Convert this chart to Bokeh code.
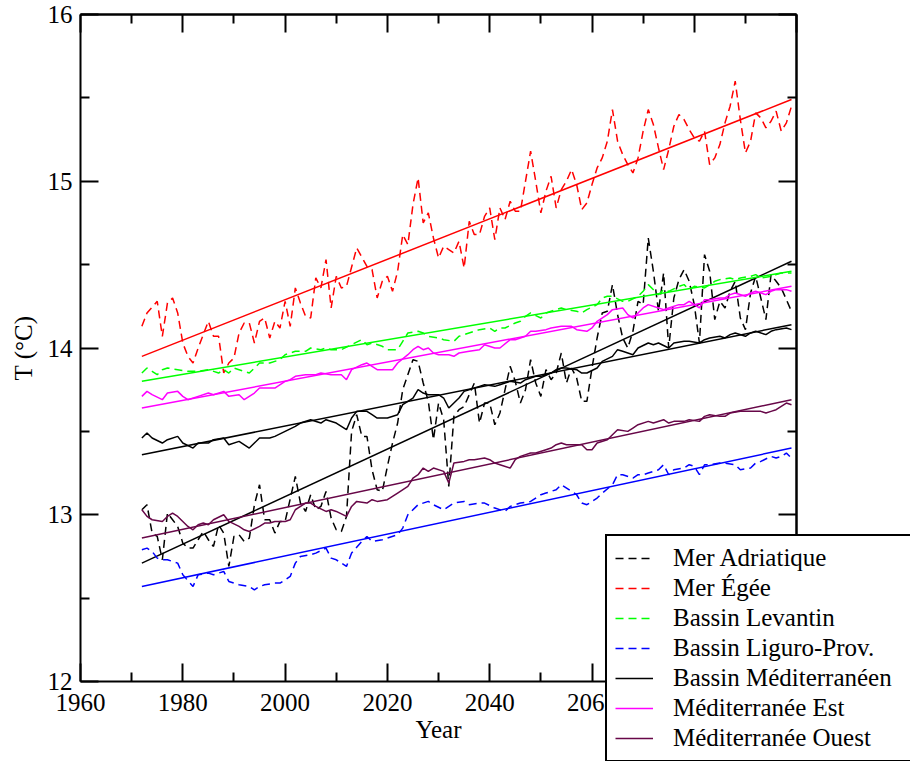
from bokeh.plotting import figure
from bokeh.models import LinearAxis, Legend, LegendItem, FixedTicker, Range1d
from bokeh.embed import file_html
from bokeh.resources import INLINE

# ---- Mer Adriatique (black dashed)
adr_years = [1972, 1973, 1974, 1975, 1976, 1977, 1978, 1979, 1980, 1981, 1982, 1983, 1984, 1985,
             1986, 1987, 1988, 1989, 1990, 1991, 1992, 1993, 1994, 1995, 1996, 1997, 1998, 1999,
             2000, 2002, 2003, 2004, 2005, 2006, 2007, 2008, 2009, 2010, 2011, 2012, 2013, 2014,
             2015, 2016, 2017, 2018, 2019, 2020, 2021, 2022, 2023, 2025, 2026, 2027, 2028, 2029,
             2030, 2031, 2032, 2033, 2034, 2035, 2037, 2038, 2039, 2040, 2041, 2042, 2043, 2044,
             2045, 2046, 2047, 2048, 2049, 2050, 2051, 2052, 2053, 2054, 2055, 2056, 2057, 2058,
             2059, 2060, 2061, 2062, 2063, 2064, 2065, 2066, 2067, 2068, 2069, 2070, 2071, 2072,
             2073, 2074, 2075, 2076, 2077, 2078, 2079, 2080, 2081, 2082, 2083, 2084, 2085, 2086,
             2087, 2088, 2089, 2090, 2091, 2092, 2093, 2094, 2095, 2096, 2097, 2098, 2099]
adr_vals = [13.03, 13.06, 12.89, 12.87, 12.73, 13.01, 12.97, 12.93, 12.83, 12.80, 12.80, 12.85, 12.90, 12.85,
            12.81, 12.94, 12.89, 12.69, 12.87, 12.88, 12.84, 12.86, 13.06, 13.18, 12.97, 12.97, 12.89, 12.96,
            12.96, 13.23, 13.07, 13.02, 13.12, 13.03, 13.05, 13.14, 12.98, 12.91, 12.90, 12.99, 13.50, 13.60,
            13.47, 13.47, 13.27, 13.15, 13.14, 13.29, 13.43, 13.55, 13.75, 13.93, 13.92, 13.79, 13.68, 13.45,
            13.67, 13.57, 13.17, 13.59, 13.63, 13.65, 13.79, 13.55, 13.67, 13.67, 13.54, 13.61, 13.75, 13.89,
            13.80, 13.67, 13.75, 13.93, 13.79, 13.71, 13.87, 13.81, 13.85, 13.97, 13.79, 13.88, 13.82, 13.68,
            13.68, 13.88, 14.06, 14.21, 14.22, 14.38, 14.20, 14.06, 14.00, 14.10, 14.28, 14.26, 14.66, 14.46,
            14.22, 14.45, 14.00, 14.30, 14.41, 14.47, 14.40, 14.26, 14.03, 14.56, 14.46, 14.17, 14.28, 14.24,
            14.34, 14.40, 14.18, 14.11, 14.33, 14.43, 14.30, 14.17, 14.44, 14.40, 14.36, 14.29, 14.22]

# ---- Mer Egee (red dashed)
aeg_years = [1972, 1973, 1975, 1976, 1977, 1978, 1979, 1980, 1981, 1982, 1983, 1985, 1986, 1987,
             1988, 1989, 1990, 1991, 1992, 1993, 1994, 1995, 1996, 1997, 1998, 1999, 2000, 2001,
             2002, 2003, 2004, 2005, 2006, 2007, 2008, 2009, 2010, 2011, 2012, 2014, 2016, 2017,
             2018, 2019, 2020, 2021, 2022, 2023, 2024, 2025, 2026, 2027, 2028, 2029, 2030, 2031,
             2032, 2033, 2034, 2035, 2036, 2037, 2038, 2039, 2040, 2041, 2042, 2043, 2044, 2045,
             2046, 2047, 2048, 2049, 2050, 2051, 2052, 2053, 2054, 2055, 2056, 2057, 2058, 2059,
             2060, 2061, 2062, 2063, 2064, 2065, 2066, 2067, 2068, 2069, 2070, 2071, 2072, 2073,
             2074, 2075, 2076, 2077, 2078, 2079, 2080, 2081, 2082, 2083, 2084, 2085, 2086, 2087,
             2088, 2089, 2090, 2091, 2092, 2093, 2094, 2095, 2096, 2097, 2098, 2099]
aeg_vals = [14.13, 14.21, 14.28, 14.07, 14.27, 14.30, 14.21, 14.03, 13.95, 13.91, 14.00, 14.16, 14.07, 14.07,
            13.85, 13.91, 13.94, 14.09, 14.15, 14.15, 14.03, 14.16, 14.18, 14.06, 14.16, 14.12, 14.28, 14.13,
            14.36, 14.27, 14.19, 14.18, 14.42, 14.36, 14.53, 14.24, 14.43, 14.36, 14.37, 14.60, 14.49, 14.47,
            14.30, 14.40, 14.43, 14.34, 14.46, 14.68, 14.62, 14.86, 15.02, 14.75, 14.81, 14.66, 14.54, 14.61,
            14.59, 14.57, 14.64, 14.48, 14.76, 14.68, 14.68, 14.79, 14.84, 14.65, 14.84, 14.77, 14.88, 14.82,
            14.82, 15.00, 15.18, 15.00, 14.81, 14.94, 15.03, 14.84, 14.95, 15.00, 15.07, 14.98, 14.83, 14.87,
            14.98, 15.08, 15.14, 15.24, 15.43, 15.24, 15.16, 15.10, 15.05, 15.14, 15.30, 15.43, 15.34, 15.20,
            15.07, 15.19, 15.33, 15.40, 15.37, 15.31, 15.26, 15.24, 15.30, 15.10, 15.14, 15.22, 15.35, 15.45,
            15.60, 15.37, 15.17, 15.24, 15.41, 15.38, 15.32, 15.36, 15.42, 15.30, 15.35, 15.45]

# ---- Bassin Levantin (green dashed)
lev_years = [1972, 1973, 1974, 1975, 1976, 1977, 1979, 1981, 1983, 1985, 1987, 1988, 1989, 1990,
             1991, 1993, 1994, 1995, 1997, 1999, 2000, 2002, 2004, 2005, 2007, 2008, 2009, 2011,
             2013, 2015, 2016, 2017, 2019, 2020, 2022, 2023, 2024, 2026, 2027, 2028, 2030, 2031,
             2033, 2034, 2035, 2037, 2038, 2040, 2041, 2042, 2043, 2045, 2046, 2047, 2048, 2050,
             2051, 2052, 2053, 2054, 2055, 2057, 2058, 2059, 2061, 2062, 2063, 2064, 2066, 2067,
             2069, 2070, 2071, 2073, 2074, 2075, 2077, 2078, 2079, 2080, 2082, 2083, 2084, 2085,
             2087, 2088, 2089, 2091, 2092, 2093, 2095, 2096, 2097, 2099]
lev_vals = [13.85, 13.88, 13.86, 13.84, 13.87, 13.88, 13.87, 13.86, 13.86, 13.87, 13.85, 13.87, 13.85, 13.88,
            13.87, 13.85, 13.88, 13.91, 13.91, 13.93, 13.96, 13.98, 13.98, 14.00, 13.99, 14.00, 13.99, 13.99,
            14.02, 14.05, 14.02, 14.03, 14.01, 13.99, 13.99, 14.04, 14.09, 14.10, 14.09, 14.07, 14.06, 14.05,
            14.04, 14.07, 14.08, 14.10, 14.11, 14.12, 14.10, 14.12, 14.12, 14.15, 14.16, 14.19, 14.21, 14.18,
            14.21, 14.22, 14.23, 14.24, 14.23, 14.22, 14.21, 14.23, 14.26, 14.30, 14.31, 14.31, 14.28, 14.28,
            14.31, 14.34, 14.38, 14.32, 14.35, 14.34, 14.37, 14.38, 14.35, 14.37, 14.36, 14.38, 14.40, 14.41,
            14.42, 14.41, 14.42, 14.43, 14.44, 14.42, 14.43, 14.44, 14.45, 14.45]

# ---- Bassin Liguro-Prov. (blue dashed)
lig_years = [1972, 1973, 1974, 1975, 1976, 1977, 1979, 1980, 1982, 1983, 1985, 1986, 1988, 1989,
             1991, 1993, 1994, 1995, 1996, 1998, 1999, 2001, 2002, 2003, 2005, 2006, 2008, 2009,
             2010, 2012, 2013, 2015, 2016, 2017, 2019, 2020, 2022, 2023, 2024, 2026, 2028, 2029,
             2031, 2033, 2035, 2036, 2038, 2039, 2041, 2043, 2044, 2046, 2048, 2050, 2051, 2053,
             2054, 2056, 2057, 2058, 2059, 2061, 2062, 2064, 2065, 2066, 2068, 2069, 2070, 2071,
             2073, 2074, 2075, 2076, 2078, 2079, 2080, 2081, 2082, 2083, 2085, 2086, 2088, 2089,
             2091, 2092, 2093, 2095, 2096, 2097, 2098, 2099]
lig_vals = [12.79, 12.80, 12.78, 12.74, 12.73, 12.73, 12.71, 12.64, 12.57, 12.64, 12.65, 12.64, 12.66, 12.60,
            12.58, 12.57, 12.55, 12.57, 12.58, 12.59, 12.59, 12.63, 12.71, 12.75, 12.76, 12.77, 12.80, 12.74,
            12.73, 12.69, 12.77, 12.84, 12.87, 12.84, 12.85, 12.86, 12.88, 12.92, 13.00, 13.06, 13.08, 13.06,
            13.03, 13.07, 13.08, 13.06, 13.07, 13.07, 13.04, 13.02, 13.05, 13.07, 13.08, 13.12, 13.13, 13.15,
            13.18, 13.14, 13.12, 13.07, 13.06, 13.10, 13.13, 13.18, 13.24, 13.24, 13.22, 13.24, 13.24, 13.25,
            13.27, 13.30, 13.24, 13.27, 13.28, 13.30, 13.29, 13.24, 13.30, 13.30, 13.31, 13.31, 13.30, 13.27,
            13.28, 13.31, 13.32, 13.35, 13.34, 13.35, 13.37, 13.34]

# ---- Bassin Mediterraneen (black solid)
med_years = [1972, 1973, 1974, 1976, 1977, 1979, 1980, 1982, 1983, 1985, 1986, 1988, 1989, 1991,
             1993, 1994, 1995, 1997, 1998, 2000, 2002, 2003, 2005, 2007, 2008, 2010, 2012, 2013,
             2014, 2016, 2017, 2018, 2020, 2022, 2023, 2025, 2026, 2027, 2028, 2030, 2031, 2032,
             2034, 2035, 2037, 2038, 2039, 2041, 2042, 2043, 2044, 2046, 2047, 2049, 2050, 2051,
             2052, 2053, 2054, 2055, 2057, 2058, 2059, 2061, 2062, 2064, 2065, 2066, 2068, 2069,
             2071, 2072, 2073, 2075, 2076, 2078, 2079, 2081, 2082, 2083, 2085, 2086, 2087, 2088,
             2090, 2091, 2092, 2094, 2095, 2096, 2098, 2099]
med_vals = [13.46, 13.49, 13.46, 13.43, 13.45, 13.47, 13.43, 13.40, 13.43, 13.43, 13.45, 13.46, 13.42, 13.44,
            13.40, 13.43, 13.46, 13.46, 13.47, 13.50, 13.53, 13.55, 13.57, 13.55, 13.57, 13.55, 13.51, 13.58,
            13.62, 13.62, 13.60, 13.58, 13.58, 13.60, 13.66, 13.70, 13.75, 13.73, 13.72, 13.72, 13.70, 13.64,
            13.70, 13.74, 13.76, 13.77, 13.78, 13.77, 13.78, 13.79, 13.80, 13.79, 13.81, 13.83, 13.83, 13.84,
            13.85, 13.87, 13.88, 13.88, 13.87, 13.85, 13.85, 13.88, 13.92, 13.95, 13.99, 13.98, 13.96, 14.00,
            14.03, 14.02, 14.03, 14.00, 14.03, 14.04, 14.04, 14.03, 14.05, 14.06, 14.07, 14.06, 14.08, 14.09,
            14.07, 14.09, 14.10, 14.08, 14.10, 14.11, 14.12, 14.11]

# ---- Mediterranee Est (magenta solid)
est_years = [1972, 1973, 1974, 1976, 1977, 1979, 1980, 1981, 1983, 1985, 1986, 1988, 1989, 1991,
             1992, 1994, 1995, 1997, 1998, 2000, 2001, 2002, 2004, 2006, 2007, 2009, 2011, 2012,
             2013, 2015, 2016, 2017, 2018, 2020, 2021, 2022, 2024, 2025, 2026, 2027, 2028, 2029,
             2030, 2032, 2033, 2034, 2036, 2038, 2039, 2041, 2042, 2044, 2045, 2047, 2048, 2049,
             2051, 2052, 2054, 2056, 2057, 2059, 2060, 2061, 2063, 2064, 2066, 2067, 2068, 2069,
             2070, 2071, 2073, 2074, 2075, 2077, 2078, 2079, 2081, 2082, 2083, 2085, 2086, 2087,
             2088, 2090, 2091, 2092, 2094, 2095, 2096, 2098, 2099]
est_vals = [13.71, 13.74, 13.72, 13.69, 13.73, 13.74, 13.71, 13.69, 13.71, 13.73, 13.72, 13.74, 13.71, 13.72,
            13.69, 13.73, 13.76, 13.76, 13.76, 13.80, 13.81, 13.83, 13.84, 13.84, 13.85, 13.84, 13.84, 13.81,
            13.87, 13.90, 13.91, 13.89, 13.87, 13.87, 13.87, 13.91, 13.96, 13.99, 14.01, 13.99, 14.00, 13.97,
            13.96, 13.96, 13.95, 13.97, 13.98, 13.99, 14.02, 14.00, 14.00, 14.05, 14.05, 14.07, 14.10, 14.10,
            14.11, 14.12, 14.13, 14.13, 14.11, 14.10, 14.12, 14.16, 14.20, 14.23, 14.24, 14.20, 14.18, 14.21,
            14.24, 14.26, 14.24, 14.23, 14.24, 14.26, 14.26, 14.28, 14.24, 14.29, 14.29, 14.30, 14.30, 14.32,
            14.33, 14.31, 14.33, 14.34, 14.32, 14.34, 14.35, 14.35, 14.34]

# ---- Mediterranee Ouest (maroon solid)
oue_years = [1972, 1973, 1974, 1976, 1977, 1978, 1979, 1980, 1981, 1982, 1983, 1984, 1985, 1986,
             1988, 1989, 1991, 1992, 1993, 1995, 1996, 1997, 1998, 2000, 2001, 2002, 2004, 2005,
             2006, 2008, 2009, 2010, 2012, 2013, 2014, 2016, 2017, 2018, 2020, 2021, 2022, 2024,
             2025, 2026, 2027, 2028, 2029, 2031, 2032, 2033, 2035, 2036, 2037, 2039, 2040, 2041,
             2042, 2044, 2045, 2046, 2048, 2049, 2051, 2052, 2053, 2054, 2055, 2056, 2058, 2059,
             2060, 2061, 2063, 2064, 2065, 2067, 2068, 2069, 2071, 2072, 2074, 2075, 2076, 2078,
             2079, 2081, 2082, 2083, 2085, 2086, 2087, 2089, 2090, 2091, 2093, 2094, 2095, 2096,
             2098, 2099]
oue_vals = [13.03, 12.99, 12.97, 12.96, 12.99, 13.01, 12.99, 12.96, 12.93, 12.91, 12.94, 12.95, 12.94, 12.97,
            13.00, 12.96, 12.93, 12.91, 12.90, 12.93, 12.95, 12.95, 12.96, 12.96, 12.97, 13.03, 13.07, 13.07,
            13.05, 13.02, 13.03, 13.02, 12.99, 13.05, 13.08, 13.07, 13.09, 13.08, 13.09, 13.11, 13.13, 13.17,
            13.22, 13.24, 13.28, 13.26, 13.28, 13.26, 13.19, 13.31, 13.32, 13.33, 13.33, 13.34, 13.33, 13.31,
            13.30, 13.28, 13.33, 13.35, 13.37, 13.37, 13.39, 13.40, 13.42, 13.43, 13.42, 13.42, 13.42, 13.39,
            13.39, 13.43, 13.45, 13.48, 13.51, 13.50, 13.52, 13.54, 13.56, 13.55, 13.57, 13.55, 13.56, 13.56,
            13.57, 13.56, 13.59, 13.60, 13.59, 13.59, 13.61, 13.62, 13.62, 13.62, 13.62, 13.61, 13.62, 13.63,
            13.67, 13.66]

# ---- linear trends (values at first and last year)
trend_years = [1972, 2099]
adr_trend = [12.71, 14.52]
aeg_trend = [13.95, 15.49]
lev_trend = [13.80, 14.46]
lig_trend = [12.57, 13.40]
med_trend = [13.36, 14.14]
est_trend = [13.64, 14.37]
oue_trend = [12.86, 13.69]

labels = ["Mer Adriatique", "Mer Égée", "Bassin Levantin", "Bassin Liguro-Prov.",
          "Bassin Méditerranéen", "Méditerranée Est", "Méditerranée Ouest"]

x_major = [1960, 1980, 2000, 2020, 2040, 2060, 2080, 2100]
x_minor = [1970, 1990, 2010, 2030, 2050, 2070, 2090]
y_major = [12, 13, 14, 15, 16]
y_minor = [12.5, 13.5, 14.5, 15.5]

FONT = "Liberation Serif"
MAROON = "#670748"

# Pixel geometry: the data frame fills the whole canvas so that the legend
# can overlap the x axis like in the original; the visible box is drawn by
# axes placed at fixed data locations.
W, H = 910, 761
LEFT, TOP = 80, 14
PX_PER_YEAR = 102.3 / 20.0
PX_PER_DEG = 166.75
x_start = 1960 - LEFT / PX_PER_YEAR
x_end = 1960 + (W - LEFT) / PX_PER_YEAR
y_end = 16 + TOP / PX_PER_DEG
y_start = 16 - (H - TOP) / PX_PER_DEG

p = figure(width=W, height=H, x_range=Range1d(x_start, x_end), y_range=Range1d(y_start, y_end),
           output_backend="svg", toolbar_location=None,
           min_border_left=0, min_border_right=0, min_border_top=0, min_border_bottom=0,
           x_axis_location=None, y_axis_location=None)
p.outline_line_color = None
p.grid.visible = False
p.background_fill_color = "white"
p.border_fill_color = "white"


def style(ax, major_len=18, minor_len=9):
    ax.axis_line_width = 2
    ax.axis_line_color = "black"
    ax.major_tick_in = major_len
    ax.major_tick_out = 0
    ax.minor_tick_in = minor_len
    ax.minor_tick_out = 0
    ax.major_tick_line_width = 2
    ax.minor_tick_line_width = 2
    ax.major_label_text_font = FONT
    ax.major_label_text_font_size = "25px"
    ax.major_label_text_color = "black"
    ax.axis_label_text_font = FONT
    ax.axis_label_text_font_size = "25px"
    ax.axis_label_text_font_style = "normal"
    ax.axis_label_text_color = "black"


# left axis at x = 1960
yax = LinearAxis(ticker=FixedTicker(ticks=y_major, minor_ticks=y_minor), bounds=(12, 16),
                 axis_label="T (°C)", fixed_location=1960)
style(yax)
yax.major_label_standoff = 8
yax.axis_label_standoff = 8
p.add_layout(yax, "left")

# bottom axis at y = 12
xax = LinearAxis(ticker=FixedTicker(ticks=x_major, minor_ticks=x_minor), bounds=(1960, 2100),
                 axis_label="Year", fixed_location=12)
style(xax)
xax.major_label_standoff = 12
xax.axis_label_standoff = 2
p.add_layout(xax, "below")

# mirrored tick marks (top and right), no labels: major marks via long minor ticks
for loc, side, ticks, bounds in [(16, "above", x_major, (1960, 2100)),
                                 (2100, "right", y_major, (12, 16))]:
    a1 = LinearAxis(ticker=FixedTicker(ticks=[], minor_ticks=ticks), bounds=bounds,
                    fixed_location=loc)
    style(a1, minor_len=18)
    p.add_layout(a1, side)
for loc, side, ticks, bounds in [(16, "above", x_minor, (1960, 2100)),
                                 (2100, "right", y_minor, (12, 16))]:
    a2 = LinearAxis(ticker=FixedTicker(ticks=[], minor_ticks=ticks), bounds=bounds,
                    fixed_location=loc)
    style(a2, minor_len=9)
    p.add_layout(a2, side)

DASH = "8 5"
LW = 1.5
specs = [
    (adr_years, adr_vals, adr_trend, "black", DASH),
    (aeg_years, aeg_vals, aeg_trend, "#ff0000", DASH),
    (lev_years, lev_vals, lev_trend, "#00ff00", DASH),
    (lig_years, lig_vals, lig_trend, "#0000ff", DASH),
    (med_years, med_vals, med_trend, "black", "solid"),
    (est_years, est_vals, est_trend, "#ff00ff", "solid"),
    (oue_years, oue_vals, oue_trend, MAROON, "solid"),
]

items = []
for (yrs, vals, tr, col, dash), lab in zip(specs, labels):
    r = p.line(yrs, vals, line_color=col, line_width=LW, line_dash=dash)
    p.line(trend_years, tr, line_color=col, line_width=LW)
    items.append(LegendItem(label=lab, renderers=[r]))

leg = Legend(items=items, location=(605, -1), orientation="vertical")
leg.margin = 0
leg.padding = 8
leg.spacing = 2
leg.label_height = 28
leg.glyph_height = 28
leg.glyph_width = 38
leg.label_width = 260
leg.label_standoff = 20
leg.label_text_font = FONT
leg.label_text_font_size = "25px"
leg.label_text_color = "black"
leg.border_line_color = "black"
leg.border_line_alpha = 1.0
leg.border_line_width = 2
leg.background_fill_color = "white"
leg.background_fill_alpha = 1.0
p.add_layout(leg, "center")

open("out.html", "w").write(file_html(p, INLINE))
